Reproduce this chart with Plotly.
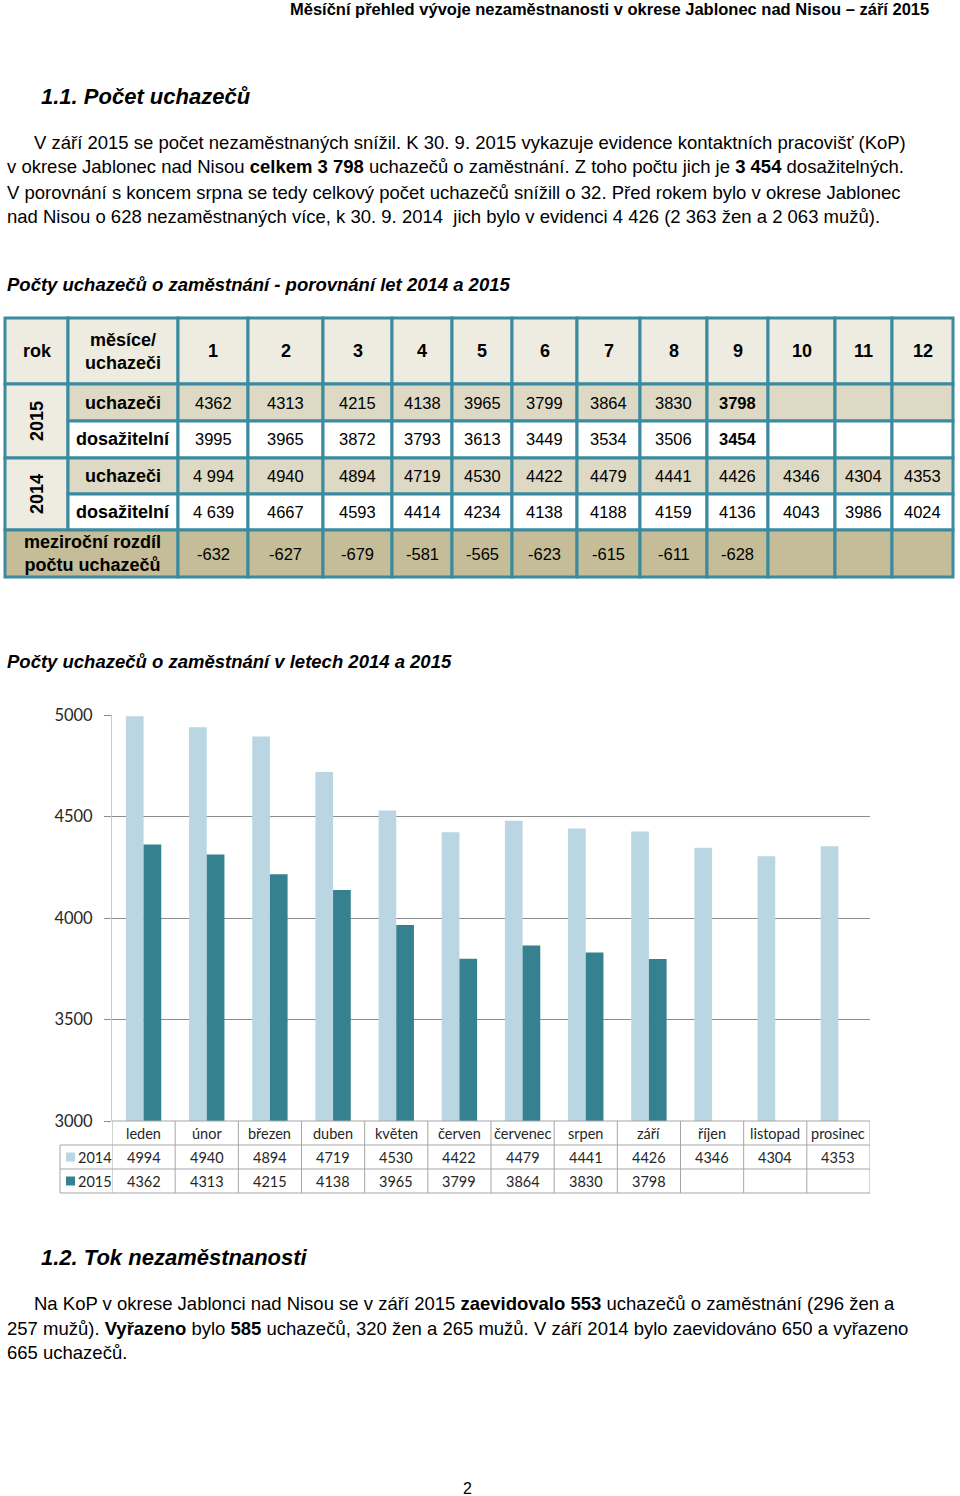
import plotly.graph_objects as go

W, H = 960, 1496

# ---------------- data ----------------
months_cz = ["leden", "únor", "březen", "duben", "květen", "červen",
             "červenec", "srpen", "září", "říjen", "listopad", "prosinec"]
month_nums = [str(i) for i in range(1, 13)]
uch_2014 = [4994, 4940, 4894, 4719, 4530, 4422, 4479, 4441, 4426, 4346, 4304, 4353]
uch_2015 = [4362, 4313, 4215, 4138, 3965, 3799, 3864, 3830, 3798]
dos_2014 = [4639, 4667, 4593, 4414, 4234, 4138, 4188, 4159, 4136, 4043, 3986, 4024]
dos_2015 = [3995, 3965, 3872, 3793, 3613, 3449, 3534, 3506, 3454]
rozdil = [-632, -627, -679, -581, -565, -623, -615, -611, -628]
y_ticks = [3000, 3500, 4000, 4500, 5000]

# ---------------- styles ----------------
C_2014 = "#B9D6E2"
C_2015 = "#35818F"
TEAL = "#3A8AA0"
F_HDR = "#EEECE1"
F_TAN = "#DDD9C4"
F_DARK = "#C4BD97"
GRID = "#8C8C8C"
BODY = "Liberation Sans, Arial, sans-serif"
CAL = "Lato, Open Sans, sans-serif"
BODY_SIZE = 18.5


def px(x):
    return x / W


def py(y):
    return 1 - y / H


annotations = []
shapes = []


def text(x, y, s, size=16, bold=False, italic=False, anchor="left", font=BODY,
         color="#000", angle=0, xref="paper"):
    if bold:
        s = "<b>" + s + "</b>"
    if italic:
        s = "<i>" + s + "</i>"
    annotations.append(dict(
        x=px(x) if xref == "paper" else x, y=py(y), xref=xref, yref="paper",
        text=s, showarrow=False, xanchor=anchor, yanchor="middle",
        textangle=angle, borderpad=0, font=dict(family=font, size=size, color=color)))


def rect(x0, y0, x1, y1, fill, line=TEAL, lw=3, xref="paper"):
    shapes.append(dict(
        type="rect", xref=xref, yref="paper",
        x0=px(x0) if xref == "paper" else x0, x1=px(x1) if xref == "paper" else x1,
        y0=py(y0), y1=py(y1), fillcolor=fill, layer="below",
        line=dict(color=line, width=lw)))


def hline(x0, x1, y, color="#A6A6A6", lw=1, xref="paper"):
    shapes.append(dict(
        type="line", xref=xref, yref="paper",
        x0=px(x0) if xref == "paper" else x0, x1=px(x1) if xref == "paper" else x1,
        y0=py(y), y1=py(y), line=dict(color=color, width=lw)))


def vline(x, y0, y1, color="#A6A6A6", lw=1, xref="paper"):
    shapes.append(dict(
        type="line", xref=xref, yref="paper",
        x0=px(x) if xref == "paper" else x, x1=px(x) if xref == "paper" else x,
        y0=py(y0), y1=py(y1), line=dict(color=color, width=lw)))


# ---------------- page text ----------------
text(930, 9, "Měsíční přehled vývoje nezaměstnanosti v okrese Jablonec nad Nisou – září 2015",
     size=16.5, bold=True, anchor="right")
text(40, 96, "1.1. Počet uchazečů", size=22, bold=True, italic=True)
para1 = [
    (33, 142, "V září 2015 se počet nezaměstnaných snížil. K 30. 9. 2015 vykazuje evidence kontaktních pracovišť (KoP)"),
    (6, 167, "v okrese Jablonec nad Nisou <b>celkem 3 798</b> uchazečů o zaměstnání. Z toho počtu jich je <b>3 454</b> dosažitelných."),
    (6, 192, "V porovnání s koncem srpna se tedy celkový počet uchazečů snížill o 32. Před rokem bylo v okrese Jablonec"),
    (6, 217, "nad Nisou o 628 nezaměstnaných více, k 30. 9. 2014  jich bylo v evidenci 4 426 (2 363 žen a 2 063 mužů)."),
]
for x, y, s in para1:
    text(x, y, s, size=BODY_SIZE)
text(6, 284, "Počty uchazečů o zaměstnání - porovnání let 2014 a 2015", size=18.5, bold=True, italic=True)
text(6, 661, "Počty uchazečů o zaměstnání v letech 2014 a 2015", size=18.5, bold=True, italic=True)
text(40, 1257, "1.2. Tok nezaměstnanosti", size=22, bold=True, italic=True)
para2 = [
    (33, 1303, "Na KoP v okrese Jablonci nad Nisou se v září 2015 <b>zaevidovalo 553</b> uchazečů o zaměstnání (296 žen a"),
    (6, 1328, "257 mužů). <b>Vyřazeno</b> bylo <b>585</b> uchazečů, 320 žen a 265 mužů. V září 2014 bylo zaevidováno 650 a vyřazeno"),
    (6, 1352, "665 uchazečů."),
]
for x, y, s in para2:
    text(x, y, s, size=BODY_SIZE)
text(467, 1488, "2", size=16, anchor="center")

# ---------------- top table ----------------
col_edges = [5, 68, 178, 248, 323, 392, 452, 512, 577, 640, 707, 768, 835, 892, 953]
row_edges = [318, 384, 421, 458, 494, 530, 577]
LBL = 18
VAL = 16.5
# header row
rect(col_edges[0], row_edges[0], col_edges[1], row_edges[1], F_HDR)
rect(col_edges[1], row_edges[0], col_edges[2], row_edges[1], F_HDR)
text(37, 351, "rok", size=LBL, bold=True, anchor="center")
text(123, 351, "měsíce/<br>uchazeči", size=LBL, bold=True, anchor="center")
for i, m in enumerate(month_nums):
    x0, x1 = col_edges[i + 2], col_edges[i + 3]
    rect(x0, row_edges[0], x1, row_edges[1], F_HDR)
    text((x0 + x1) / 2, 351, m, size=LBL, bold=True, anchor="center")

# year blocks
blocks = [
    ("2015", 1, uch_2015, dos_2015, [str(v) for v in uch_2015], [str(v) for v in dos_2015]),
    ("2014", 3, uch_2014, dos_2014,
     ["4 994"] + [str(v) for v in uch_2014[1:]], ["4 639"] + [str(v) for v in dos_2014[1:]]),
]
for year, r, uch, dos, uch_lbl, dos_lbl in blocks:
    ya, yb, yc = row_edges[r], row_edges[r + 1], row_edges[r + 2]
    rect(col_edges[0], ya, col_edges[1], yc, F_HDR)
    text(37, (ya + yc) / 2, year, size=LBL, bold=True, anchor="center", angle=-90)
    rect(col_edges[1], ya, col_edges[2], yb, F_TAN)
    text(123, (ya + yb) / 2, "uchazeči", size=LBL, bold=True, anchor="center")
    rect(col_edges[1], yb, col_edges[2], yc, "#FFFFFF")
    text(123, (yb + yc) / 2, "dosažitelní", size=LBL, bold=True, anchor="center")
    for i in range(12):
        x0, x1 = col_edges[i + 2], col_edges[i + 3]
        rect(x0, ya, x1, yb, F_TAN)
        rect(x0, yb, x1, yc, "#FFFFFF")
        last = (year == "2015" and i == len(uch) - 1)
        if i < len(uch):
            text((x0 + x1) / 2, (ya + yb) / 2, uch_lbl[i], size=VAL, bold=last, anchor="center")
            text((x0 + x1) / 2, (yb + yc) / 2, dos_lbl[i], size=VAL, bold=last, anchor="center")

# year-on-year difference row
ya, yb = row_edges[5], row_edges[6]
rect(col_edges[0], ya, col_edges[2], yb, F_DARK)
text(92, (ya + yb) / 2, "meziroční rozdíl<br>počtu uchazečů", size=LBL, bold=True, anchor="center")
for i in range(12):
    x0, x1 = col_edges[i + 2], col_edges[i + 3]
    rect(x0, ya, x1, yb, F_DARK)
    if i < len(rozdil):
        text((x0 + x1) / 2, (ya + yb) / 2, str(rozdil[i]), size=VAL, anchor="center")

# ---------------- chart ----------------
PL, PR, PT, PB = 112, 870, 715, 1121

fig = go.Figure()
fig.add_trace(go.Bar(x=months_cz, y=uch_2014, name="2014", marker_color=C_2014,
                     marker_line_width=0))
fig.add_trace(go.Bar(x=months_cz[:len(uch_2015)], y=uch_2015, name="2015",
                     marker_color=C_2015, marker_line_width=0))

# chart data table (aligned to the category axis)
T0, T1, T2, T3 = 1121, 1145, 1169, 1193
for i in range(13):
    vline(i - 0.5, T0, T3, xref="x")
hline(-0.5, 11.5, T0, xref="x")
for yy in (T1, T2, T3):
    hline(60, PR, yy)
vline(60, T1, T3)
TC = "#262626"
for i, m in enumerate(months_cz):
    text(m, (T0 + T1) / 2, m, size=14.5, font=CAL, anchor="center", xref="x", color=TC)
    text(m, (T1 + T2) / 2, str(uch_2014[i]), size=14.5, font=CAL, anchor="center", xref="x", color=TC)
    if i < len(uch_2015):
        text(m, (T2 + T3) / 2, str(uch_2015[i]), size=14.5, font=CAL, anchor="center", xref="x", color=TC)
for (yy0, yy1), col, lab in (((T1, T2), C_2014, "2014"), ((T2, T3), C_2015, "2015")):
    cy = (yy0 + yy1) / 2
    shapes.append(dict(type="rect", xref="paper", yref="paper", x0=px(66), x1=px(75),
                       y0=py(cy - 4.5), y1=py(cy + 4.5), fillcolor=col, line=dict(width=0)))
    text(77, cy, lab, size=14.5, font=CAL, color=TC)

fig.update_layout(
    width=W, height=H, margin=dict(l=0, r=0, t=0, b=0, autoexpand=False),
    paper_bgcolor="white", plot_bgcolor="white",
    showlegend=False, barmode="group", bargap=0.44, bargroupgap=0,
    xaxis=dict(domain=[px(PL), px(PR)], range=[-0.5, 11.5], showticklabels=False,
               showgrid=False, zeroline=False, showline=False, ticks=""),
    yaxis=dict(domain=[py(PB), py(PT)], range=[3000, 5000], tickvals=y_ticks,
               showgrid=True, gridcolor=GRID, gridwidth=1, zeroline=False,
               showline=True, linecolor="#C8C8C8", linewidth=1,
               ticks="outside", ticklen=7, tickcolor=GRID, ticklabelstandoff=8,
               tickfont=dict(family=CAL, size=16.5, color=TC)),
    annotations=annotations, shapes=shapes,
)

POST = (
    "document.body.style.margin='0';document.body.style.padding='0';"
    "document.body.style.overflow='hidden';"
    "var gd=document.getElementById('{plot_id}');"
    "gd.style.position='absolute';gd.style.top='0px';gd.style.left='0px';"
)
fig.write_html("out.html", config={"displayModeBar": False}, post_script=POST)
